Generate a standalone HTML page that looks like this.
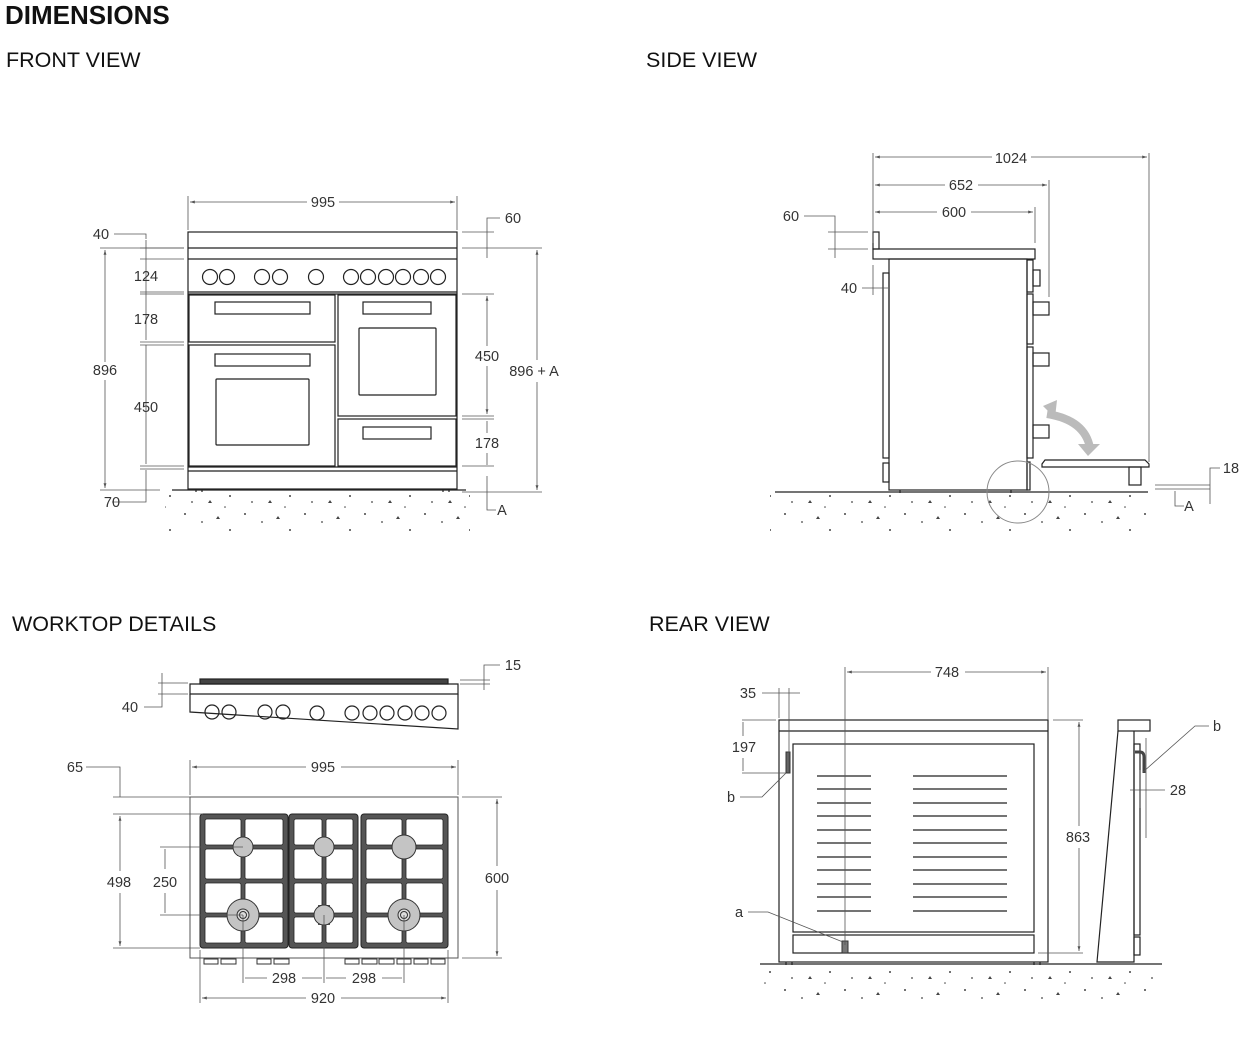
<!DOCTYPE html>
<html><head><meta charset="utf-8"><style>
html,body{margin:0;padding:0;background:#fff;}
svg{display:block;}
text{font-family:"Liberation Sans",sans-serif;fill:#333;}
.d{font-size:14.5px;text-anchor:middle;}
.h{font-size:21.5px;fill:#111;}
</style></head><body>
<svg width="1259" height="1039" viewBox="0 0 1259 1039" xmlns="http://www.w3.org/2000/svg">
<defs>
<pattern id="sp" width="60" height="34" patternUnits="userSpaceOnUse">
<circle cx="5" cy="4" r="1" fill="#444"/><circle cx="22" cy="12" r="0.9" fill="#444"/><path d="M38 6l2 3h-4z" fill="#444"/>
<circle cx="50" cy="20" r="1" fill="#444"/><circle cx="12" cy="26" r="0.9" fill="#444"/><path d="M30 24l2 3h-4z" fill="#444"/><circle cx="45" cy="31" r="0.8" fill="#444"/>
</pattern>
<marker id="a" viewBox="0 0 10 10" refX="10" refY="5" markerWidth="6" markerHeight="6" orient="auto-start-reverse"><path d="M0 2L10 5L0 8z" fill="#555"/></marker>
</defs>
<text x="5" y="24" style="font-size:26px;font-weight:bold;fill:#111">DIMENSIONS</text>
<text class="h" x="6" y="67">FRONT VIEW</text>
<text class="h" x="646" y="67">SIDE VIEW</text>
<text class="h" x="12" y="631">WORKTOP DETAILS</text>
<text class="h" x="649" y="631">REAR VIEW</text>

<rect x="165" y="493" width="305" height="38" fill="url(#sp)"/>
<rect x="770" y="495" width="380" height="38" fill="url(#sp)"/>
<rect x="760" y="967" width="400" height="32" fill="url(#sp)"/>

<g fill="none" stroke="#222" stroke-width="1.2">
<line x1="172" y1="490" x2="466" y2="490"/>
<rect x="188" y="232" width="269" height="257"/>
<line x1="188" y1="248" x2="457" y2="248"/>
<line x1="188" y1="259" x2="457" y2="259"/>
<line x1="188" y1="292" x2="457" y2="292"/>
<line x1="188" y1="294" x2="457" y2="294"/>
<rect x="189" y="295" width="146" height="47"/>
<rect x="189" y="345" width="146" height="121"/>
<rect x="338" y="295" width="118" height="121"/>
<rect x="338" y="419" width="118" height="47"/>
<line x1="188" y1="467" x2="457" y2="467"/>
<line x1="188" y1="471" x2="457" y2="471"/>
<rect x="215" y="302" width="95" height="12"/>
<rect x="215" y="354" width="95" height="12"/>
<rect x="216" y="379" width="93" height="66" rx="1"/>
<rect x="363" y="302" width="68" height="12"/>
<rect x="359" y="328" width="77" height="67" rx="1"/>
<rect x="363" y="427" width="68" height="12"/>
<g>
<circle cx="210" cy="277" r="7.5"/><circle cx="227" cy="277" r="7.5"/>
<circle cx="262" cy="277" r="7.5"/><circle cx="280" cy="277" r="7.5"/>
<circle cx="316" cy="277" r="7.5"/>
<circle cx="351" cy="277" r="7.5"/><circle cx="368" cy="277" r="7.5"/><circle cx="386" cy="277" r="7.5"/><circle cx="403" cy="277" r="7.5"/><circle cx="421" cy="277" r="7.5"/><circle cx="438" cy="277" r="7.5"/>
</g>
<line x1="196" y1="489" x2="196" y2="492"/><line x1="202" y1="489" x2="202" y2="492"/>
<line x1="443" y1="489" x2="443" y2="492"/><line x1="449" y1="489" x2="449" y2="492"/>

<line x1="775" y1="492" x2="1148" y2="492"/>
<rect x="873" y="249" width="162" height="10"/>
<rect x="873" y="232" width="6" height="17"/>
<rect x="889" y="259" width="138" height="231"/>
<rect x="883" y="273" width="6" height="185"/>
<rect x="883" y="463" width="6" height="19"/>
<rect x="1027" y="260" width="6" height="32"/>
<rect x="1027" y="294" width="6" height="50"/>
<rect x="1027" y="347" width="6" height="111"/>
<rect x="1027" y="462" width="3" height="28"/>
<rect x="1033" y="270" width="7" height="16"/>
<rect x="1033" y="302" width="16" height="13"/>
<rect x="1033" y="353" width="16" height="13"/>
<rect x="1033" y="425" width="16" height="13"/>
<path d="M1045 460h100l4 4v3h-107v-3z"/>
<rect x="1129" y="467" width="12" height="18"/>
<line x1="900" y1="490" x2="900" y2="493"/><line x1="1011" y1="490" x2="1011" y2="493"/>
</g>
<circle cx="1018" cy="492" r="31" fill="none" stroke="#888" stroke-width="1"/>
<path d="M1047 414 Q1085 420 1090 448" fill="none" stroke="#bbb" stroke-width="8"/>
<path d="M1043 406 l14 -6 l-2 18z" fill="#bbb"/>
<path d="M1078 444 l22 0 l-12 12z" fill="#bbb"/>

<g fill="none" stroke="#222" stroke-width="1.2">
<rect x="200" y="679" width="248" height="5" fill="#444"/>
<path d="M190 684h268v10h-268z"/>
<path d="M190 694v18l268 17v-35"/>
<circle cx="212" cy="712" r="7"/><circle cx="229" cy="712" r="7"/>
<circle cx="265" cy="712" r="7"/><circle cx="283" cy="712" r="7"/>
<circle cx="317" cy="713" r="7"/>
<circle cx="352" cy="713" r="7"/><circle cx="370" cy="713" r="7"/><circle cx="387" cy="713" r="7"/><circle cx="405" cy="713" r="7"/><circle cx="422" cy="713" r="7"/><circle cx="439" cy="713" r="7"/>
</g>
<rect x="190" y="797" width="268" height="161" fill="none" stroke="#555" stroke-width="1"/>
<g fill="#555" stroke="#222">
<rect x="200" y="814" width="88" height="134" rx="3"/>
<rect x="289" y="814" width="69" height="134" rx="3"/>
<rect x="361" y="814" width="87" height="134" rx="3"/>
</g>
<g fill="#fff" stroke="#222" stroke-width="0.8">
<rect x="205" y="819" width="36" height="26" rx="2"/><rect x="245" y="819" width="38" height="26" rx="2"/>
<rect x="205" y="849" width="36" height="30" rx="2"/><rect x="245" y="849" width="38" height="30" rx="2"/>
<rect x="205" y="883" width="36" height="30" rx="2"/><rect x="245" y="883" width="38" height="30" rx="2"/>
<rect x="205" y="917" width="36" height="26" rx="2"/><rect x="245" y="917" width="38" height="26" rx="2"/>
<rect x="294" y="819" width="28" height="26" rx="2"/><rect x="326" y="819" width="27" height="26" rx="2"/>
<rect x="294" y="849" width="28" height="30" rx="2"/><rect x="326" y="849" width="27" height="30" rx="2"/>
<rect x="294" y="883" width="28" height="30" rx="2"/><rect x="326" y="883" width="27" height="30" rx="2"/>
<rect x="294" y="917" width="28" height="26" rx="2"/><rect x="326" y="917" width="27" height="26" rx="2"/>
<rect x="366" y="819" width="36" height="26" rx="2"/><rect x="406" y="819" width="37" height="26" rx="2"/>
<rect x="366" y="849" width="36" height="30" rx="2"/><rect x="406" y="849" width="37" height="30" rx="2"/>
<rect x="366" y="883" width="36" height="30" rx="2"/><rect x="406" y="883" width="37" height="30" rx="2"/>
<rect x="366" y="917" width="36" height="26" rx="2"/><rect x="406" y="917" width="37" height="26" rx="2"/>
</g>
<g fill="#555">
<rect x="237" y="838" width="12" height="18"/><rect x="318" y="838" width="12" height="18"/><rect x="398" y="838" width="12" height="18"/>
<rect x="235" y="905" width="16" height="20"/><rect x="318" y="905" width="12" height="20"/><rect x="396" y="905" width="16" height="20"/>
</g>
<g fill="#c4c4c4" stroke="#333" stroke-width="1">
<circle cx="243" cy="847" r="10"/><circle cx="324" cy="847" r="10"/><circle cx="404" cy="847" r="12"/>
<circle cx="243" cy="915" r="16"/><circle cx="324" cy="915" r="10"/><circle cx="404" cy="915" r="16"/>
<circle cx="243" cy="915" r="6" fill="#ddd"/><circle cx="243" cy="915" r="3.5" fill="#ddd"/>
<circle cx="404" cy="915" r="6" fill="#ddd"/><circle cx="404" cy="915" r="3.5" fill="#ddd"/>
</g>
<g fill="#fff" stroke="#333" stroke-width="1">
<rect x="204" y="959" width="14" height="5"/><rect x="221" y="959" width="15" height="5"/>
<rect x="257" y="959" width="14" height="5"/><rect x="274" y="959" width="15" height="5"/>
<rect x="345" y="959" width="14" height="5"/><rect x="362" y="959" width="15" height="5"/><rect x="379" y="959" width="15" height="5"/><rect x="397" y="959" width="14" height="5"/><rect x="414" y="959" width="14" height="5"/><rect x="431" y="959" width="14" height="5"/>
</g>

<g fill="none" stroke="#222" stroke-width="1.2">
<line x1="760" y1="964" x2="1162" y2="964"/>
<rect x="779" y="720" width="269" height="242"/>
<line x1="779" y1="731" x2="1048" y2="731"/>
<rect x="793" y="744" width="241" height="188"/>
<rect x="793" y="935" width="241" height="18"/>
<path d="M817 776h54M817 789h54M817 803h54M817 816h54M817 830h54M817 843h54M817 857h54M817 870h54M817 884h54M817 897h54M817 911h54"/>
<path d="M913 776h94M913 789h94M913 803h94M913 816h94M913 830h94M913 843h94M913 857h94M913 870h94M913 884h94M913 897h94M913 911h94"/>
<path d="M1118 731l-21 231h37v-231"/>
<rect x="1118" y="720" width="32" height="11"/>
<rect x="1134" y="744" width="6" height="191"/>
<rect x="1134" y="937" width="6" height="18"/>
<line x1="786" y1="962" x2="786" y2="965"/><line x1="792" y1="962" x2="792" y2="965"/>
<line x1="1034" y1="962" x2="1034" y2="965"/><line x1="1040" y1="962" x2="1040" y2="965"/>
</g>
<rect x="786" y="752" width="4" height="21" fill="#666" stroke="#333"/>
<rect x="842" y="941" width="6" height="12" fill="#777" stroke="#333"/>
<path d="M1135 752h5q4 0 4 5v16" fill="none" stroke="#444" stroke-width="3"/>

<g stroke="#555" stroke-width="0.8" fill="none">
<path d="M188 196v34M457 196v34"/>
<path d="M190 202h117M339 202h116" marker-start="url(#a)" marker-end="url(#a)"/>
<path d="M114 234h32v5M146 240v100M146 345v119M146 470v32h-34"/>
<path d="M140 248h44M140 259h44M140 292h44M140 294h44M140 342h44M140 345h44M140 466h44M140 469h44"/>
<path d="M100 248h84M100 490h60"/>
<path d="M105 250v112M105 380v108" marker-start="url(#a)" marker-end="url(#a)"/>
<path d="M500 218h-13v40"/>
<path d="M462 232h32M462 248h80M462 294h32M462 416h32M462 419h32M462 466h32M462 492h80"/>
<path d="M487 296v50M487 366v48" marker-start="url(#a)" marker-end="url(#a)"/>
<path d="M487 421v12M487 453v12"/>
<path d="M537 250v110M537 382v108" marker-start="url(#a)" marker-end="url(#a)"/>
<path d="M487 476v34h9"/>
<path d="M873 153v90M1149 153v309M1049 180v117M1035 207v36"/>
<path d="M875 157h117M1031 157h116" marker-start="url(#a)" marker-end="url(#a)"/>
<path d="M875 185h70M978 185h69" marker-start="url(#a)" marker-end="url(#a)"/>
<path d="M875 212h62M971 212h62" marker-start="url(#a)" marker-end="url(#a)"/>
<path d="M804 216h31v42M828 232h40M828 249h40"/>
<path d="M862 288h26"/><path d="M873 265v30"/>
<path d="M1220 468h-10v36M1155 485h55M1155 489h55M1175 491v15h9"/>
<path d="M162 673v20M158 683h30M158 694h30M144 707h18v-14"/>
<path d="M500 665h-16v25M460 680h30M460 684h30"/>
<path d="M190 760v35M458 760v35"/>
<path d="M192 767h114M341 767h115" marker-start="url(#a)" marker-end="url(#a)"/>
<path d="M86 767h34v30M113 797h77M113 814h90M113 948h87"/>
<path d="M120 816v55M120 893v53" marker-start="url(#a)" marker-end="url(#a)"/>
<path d="M160 847h83M160 915h83M165 849v20M165 893v20"/>
<path d="M462 797h40M462 958h40"/>
<path d="M497 799v67M497 890v66" marker-start="url(#a)" marker-end="url(#a)"/>
<path d="M243 915v68M324 915v68M404 915v68M200 950v53M448 950v53"/>
<path d="M245 978h22M302 978h20M326 978h20M382 978h20"/>
<path d="M202 998h104M341 998h105" marker-start="url(#a)" marker-end="url(#a)"/>
<path d="M845 667v278M1048 667v53"/>
<path d="M847 672h84M965 672h81" marker-start="url(#a)" marker-end="url(#a)"/>
<path d="M762 693h38M779 688v30M789 688v84"/>
<path d="M742 720h34M742 773h44M743 722v14M743 758v13"/>
<path d="M740 797h22l24 -24"/>
<path d="M748 912h20l75 30"/>
<path d="M1053 720h30M1038 953h45"/>
<path d="M1079 722v104M1079 848v103" marker-start="url(#a)" marker-end="url(#a)"/>
<path d="M1209 726h-14l-52 46"/>
<path d="M1146 738v100M1130 790h35M1140 770v38"/>
</g>

<g>
<text class="d" x="323" y="207">995</text>
<text class="d" x="101" y="239">40</text>
<text class="d" x="146" y="281">124</text>
<text class="d" x="146" y="324">178</text>
<text class="d" x="105" y="375">896</text>
<text class="d" x="146" y="412">450</text>
<text class="d" x="112" y="507">70</text>
<text class="d" x="513" y="223">60</text>
<text class="d" x="487" y="361">450</text>
<text class="d" x="487" y="448">178</text>
<text class="d" x="534" y="376">896 + A</text>
<text class="d" x="502" y="515">A</text>
<text class="d" x="1011" y="163">1024</text>
<text class="d" x="961" y="190">652</text>
<text class="d" x="954" y="217">600</text>
<text class="d" x="791" y="221">60</text>
<text class="d" x="849" y="293">40</text>
<text class="d" x="1231" y="473">18</text>
<text class="d" x="1189" y="511">A</text>
<text class="d" x="513" y="670">15</text>
<text class="d" x="130" y="712">40</text>
<text class="d" x="323" y="772">995</text>
<text class="d" x="75" y="772">65</text>
<text class="d" x="119" y="887">498</text>
<text class="d" x="165" y="887">250</text>
<text class="d" x="497" y="883">600</text>
<text class="d" x="284" y="983">298</text>
<text class="d" x="364" y="983">298</text>
<text class="d" x="323" y="1003">920</text>
<text class="d" x="947" y="677">748</text>
<text class="d" x="748" y="698">35</text>
<text class="d" x="744" y="752">197</text>
<text class="d" x="731" y="802">b</text>
<text class="d" x="739" y="917">a</text>
<text class="d" x="1078" y="842">863</text>
<text class="d" x="1217" y="731">b</text>
<text class="d" x="1178" y="795">28</text>
</g>
</svg>
</body></html>
